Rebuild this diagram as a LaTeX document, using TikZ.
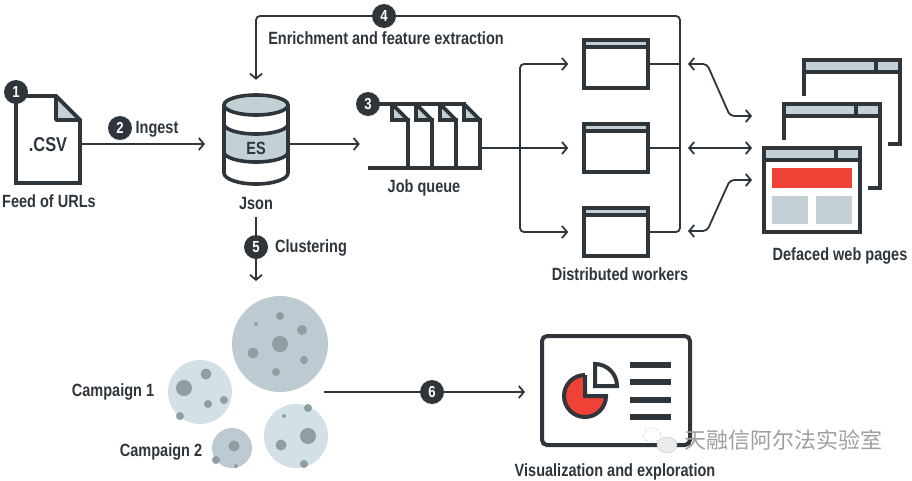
\documentclass[tikz,border=0pt]{standalone}
\usepackage{fontspec}
\setmainfont[FakeStretch=0.82]{Liberation Sans}
\newfontfamily\cjkfont{Noto Sans CJK SC}
\usepackage{xcolor}
\usetikzlibrary{arrows.meta,shapes.geometric}
\definecolor{ink}{HTML}{2E363C}
\definecolor{slate}{HTML}{C3D0D6}
\definecolor{palec}{HTML}{D3E0E5}
\definecolor{midc}{HTML}{BCCBD1}
\definecolor{speck}{HTML}{8E9EA3}
\definecolor{alert}{HTML}{EF4136}

\begin{document}
\begin{tikzpicture}[x=1pt, y=-1pt, every node/.style={font=\bfseries\fontsize{17.7}{19}\selectfont, text=ink}, conn/.style={draw=ink, line width=1.8pt}, arr/.style={conn, -{Straight Barb[length=5pt, width=12pt, line width=1.8pt]}}, dbl/.style={conn, {Straight Barb[length=5pt, width=12pt, line width=1.8pt]}-{Straight Barb[length=5pt, width=12pt, line width=1.8pt]}, rounded corners=4pt}, badge/.style={circle, fill=ink, text=white, inner sep=0pt, minimum size=24pt, font=\bfseries\fontsize{16}{18}\selectfont}, outline/.style={draw=ink, line width=3.6pt, line join=miter}, fold/.style={outline, fill=slate, line join=bevel}, winbox/.style={draw=ink, line width=3.6pt, fill=white, minimum width=64pt, minimum height=48pt, inner sep=0pt}, ghost/.style={inner sep=0pt}]
\useasboundingbox (0,0) rectangle (912,480);

% feed file
\draw[outline, fill=white] (16,96) -- (56,96) -- (80,120) -- (80,183) -- (16,183) -- cycle;
\draw[fold] (56,96) -- (56,120) -- (80,120) -- cycle;
\node[ghost, minimum width=67.6pt, minimum height=87pt, font=\bfseries\fontsize{20}{22}\selectfont] (csv) at (48,144.5) {.CSV};
\node (feed) at (49,201.5) {Feed of URLs};

% json store
\draw[outline, fill=white] (224,105) -- (224,173) arc (180:0:32 and 11) -- (288,105);
\draw[outline, fill=slate] (224,124) arc (180:0:32 and 10) -- (288,152) arc (0:180:32 and 10) -- cycle;
\draw[outline, fill=slate] (256,105) ellipse (32 and 10);
\node[ghost, minimum width=67.6pt, minimum height=102pt] (es) at (256,144) {};
\node (estext) at (256,148.5) {ES};
\node (json) at (256,203) {Json};

% job queue
\node[ghost, minimum width=114pt, minimum height=66pt] (queue) at (425,136) {};
\draw[outline, fill=white] (392,104) -- (392,120) -- (408,120) -- (408,168);
\draw[outline, fill=white] (416,104) -- (416,120) -- (432,120) -- (432,168);
\draw[outline, fill=white] (440,104) -- (440,120) -- (456,120) -- (456,168);
\draw[outline, fill=white] (464,104) -- (464,120) -- (480,120) -- (480,168);
\draw[fold] (392,104) -- (392,120) -- (408,120) -- cycle;
\draw[fold] (416,104) -- (416,120) -- (432,120) -- cycle;
\draw[fold] (440,104) -- (440,120) -- (456,120) -- cycle;
\draw[fold] (464,104) -- (464,120) -- (480,120) -- cycle;
\draw[outline] (368,104) -- (466,104);
\draw[outline] (368,168) -- (482,168);
\node (jobs) at (424,187.5) {Job queue};

% workers
\node[winbox] (wone) at (616,64) {};
\node[winbox] (wtwo) at (616,148) {};
\node[winbox] (wthree) at (616,232) {};
\draw[outline, fill=slate] (584,40) rectangle (648,47);
\draw[outline, fill=slate] (584,124) rectangle (648,131);
\draw[outline, fill=slate] (584,208) rectangle (648,215);
\node (workers) at (620,274) {Distributed workers};

% defaced pages
\draw[outline] (804,96) -- (804,60) -- (900,60) -- (900,144) -- (888,144);
\draw[outline, fill=slate] (804,60) rectangle (900,72);
\draw[outline] (876,60) -- (876,72);
\draw[outline] (784,140) -- (784,104) -- (880,104) -- (880,188) -- (868,188);
\draw[outline, fill=slate] (784,104) rectangle (880,116);
\draw[outline] (856,104) -- (856,116);
\node[winbox, minimum width=96pt, minimum height=84pt] (front) at (812,190) {};
\draw[outline, fill=slate] (764,148) rectangle (860,160);
\draw[outline] (836,148) -- (836,160);
\fill[alert] (772,168) rectangle (852,188);
\fill[slate] (772,196) rectangle (808,224);
\fill[slate] (816,196) rectangle (852,224);
\node (pages) at (840,255.5) {Defaced web pages};

% clusters
\node[circle, fill=midc, inner sep=0pt, minimum size=96pt] (cbig) at (280,344) {};
\node[circle, fill=palec, inner sep=0pt, minimum size=64pt] (cone) at (200,392) {};
\node[circle, fill=midc, inner sep=0pt, minimum size=40pt] (ctwo) at (232,448) {};
\node[circle, fill=palec, inner sep=0pt, minimum size=64pt] (cfour) at (296,436) {};
\fill[speck] (280,316) circle (4) (256,324) circle (2) (302,330) circle (5) (280,344) circle (8) (253,353) circle (5.5) (304,360) circle (4) (276,372) circle (4);
\fill[speck] (206,374) circle (5.5) (184,388) circle (8) (208,404) circle (4) (224,400) circle (4) (180,416) circle (4);
\fill[speck] (234,446) circle (5.5) (216,460) circle (4) (236,466) circle (2);
\fill[speck] (308,408) circle (4) (284,416) circle (2) (308,436) circle (8) (281,445) circle (5.5) (304,464) circle (4);
\node (campone) at (113,392) {Campaign 1};
\node (camptwo) at (161,452) {Campaign 2};

% dashboard
\node[draw=ink, line width=4pt, rounded corners=5pt, minimum width=148pt, minimum height=109pt, inner sep=0pt] (dash) at (616,390.5) {};
\draw[draw=ink, line width=4pt, fill=alert] (585,375) -- (585,396) -- (606,396) arc (0:270:21);
\draw[draw=ink, line width=4pt, fill=white] (595,364) arc (-90:0:22) -- (595,386) -- cycle;
\draw[ink, line width=6pt] (630,365) -- (671,365);
\draw[ink, line width=6pt] (630,382) -- (671,382);
\draw[ink, line width=6pt] (630,400) -- (671,400);
\draw[ink, line width=6pt] (630,417) -- (671,417);
\node (vis) at (615,471.5) {Visualization and exploration};

% free ends
\coordinate (jobout) at (482,148);
\coordinate (split) at (520,148);
\coordinate (trunk) at (680,16);
\coordinate (cluout) at (256,217);
\coordinate (cluin) at (256,281);
\coordinate (campout) at (324,392);
\coordinate (dashin) at (525,392);
\coordinate (aone) at (688,64);
\coordinate (bone) at (752,116);
\coordinate (atwo) at (688,148);
\coordinate (btwo) at (752,148);
\coordinate (athree) at (688,231);
\coordinate (bthree) at (752,180);

\draw[arr, shorten >=17pt] (csv.east |- es) -- (es);
\draw[arr, shorten >=8pt] (es.east) -- (es.east -| queue.west);
\draw[arr, shorten >=14pt] (jobout) -- (wtwo.west);
\draw[arr, rounded corners=4pt, shorten >=14pt] (split) |- (wone.west);
\draw[arr, rounded corners=4pt, shorten >=14pt] (split) |- (wthree.west);
\draw[conn] (wone.east) -- (wone.east -| trunk);
\draw[conn] (wtwo.east) -- (wtwo.east -| trunk);
\draw[arr, rounded corners=4pt, shorten >=13pt] (wthree.east) -| (trunk) -| (es.north);
\draw[arr] (cluout) -- (cluin);
\draw[arr] (campout) -- (dashin);
\draw[dbl] (aone) -- (707,64) -- (730,116) -- (bone);
\draw[dbl] (atwo) -- (btwo);
\draw[dbl] (athree) -- (707,231) -- (730,180) -- (bthree);

% numbered marks
\node[badge] (one) at (16,92) {1};
\node[badge] (two) at (120,128) {2};
\node[badge] (three) at (368,104) {3};
\node[badge] (four) at (384,16) {4};
\node[badge] (five) at (256,247) {5};
\node[badge] (six) at (432,392) {6};
\node (ingest) at (157,129) {Ingest};
\node (enrich) at (386,38.5) {Enrichment and feature extraction};
\node (clustering) at (311,248) {Clustering};

% watermark
\node[ellipse, draw=gray!45, dashed, inner sep=0pt, minimum width=18pt, minimum height=14pt] (bubbleback) at (652,435) {};
\node[ellipse, draw=gray!45, fill=gray!15, inner sep=0pt, minimum width=20pt, minimum height=16pt] (bubblefront) at (667,445) {};
\node[font=\cjkfont\fontsize{22}{24}\selectfont, text=gray!75] (mark) at (783.5,440) {天融信阿尔法实验室};
\end{tikzpicture}
\end{document}
